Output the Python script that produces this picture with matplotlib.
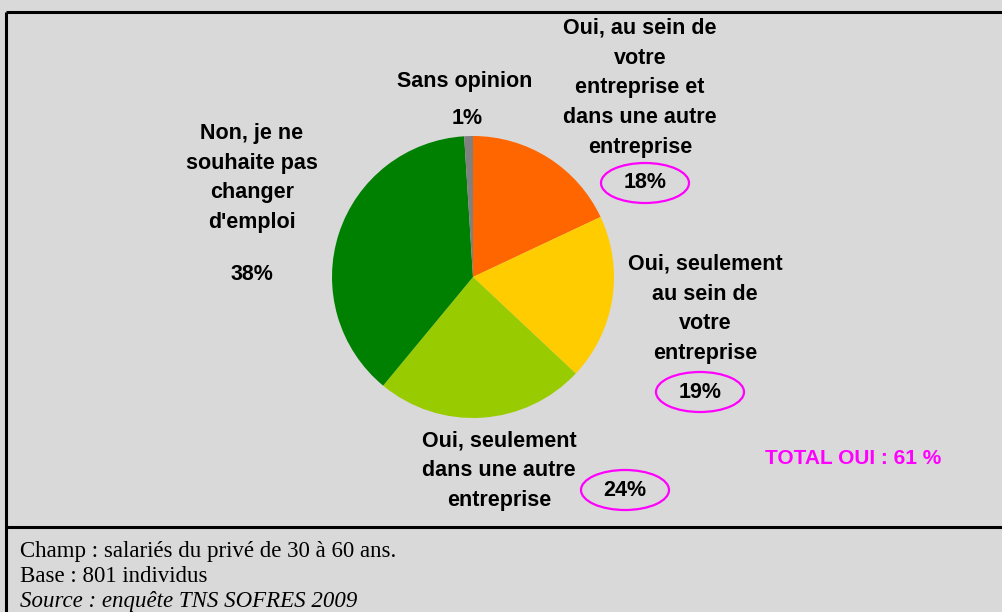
"""Pie chart: souhait de changer d'emploi (enquête TNS SOFRES 2009)."""
import matplotlib
matplotlib.use("Agg")
import matplotlib.pyplot as plt
from matplotlib.patches import Ellipse

W, H = 1002, 612

# data
labels = [
    "Oui, au sein de\nvotre\nentreprise et\ndans une autre\nentreprise",
    "Oui, seulement\nau sein de\nvotre\nentreprise",
    "Oui, seulement\ndans une autre\nentreprise",
    "Non, je ne\nsouhaite pas\nchanger\nd'emploi",
    "Sans opinion",
]
shares = [18, 19, 24, 38, 1]
colors = ["#FF6600", "#FFCC00", "#99CC00", "#008000", "#808080"]
circled = [True, True, True, False, False]
total_oui = "TOTAL OUI : 61 %"
notes = [
    "Champ : salariés du privé de 30 à 60 ans.",
    "Base : 801 individus",
]
source = "Source : enquête TNS SOFRES 2009"

# label placement in pixel coords (x, y from top): name, percent
name_pos = [(640, 88), (705, 309), (499, 471), (252, 178), (465, 82)]
pct_pos = [(645, 183), (700, 392), (625, 490), (252, 275), (467, 118)]

BG = "#D9D9D9"
fig = plt.figure(figsize=(W / 100, H / 100), dpi=100, facecolor=BG)
ax = fig.add_axes([0, 0, 1, 1])
ax.set_facecolor(BG)


def Y(y):
    return H - y


ax.pie(shares, colors=colors, startangle=90, counterclock=False,
       center=(473, Y(277)), radius=141, frame=True,
       wedgeprops=dict(linewidth=0))
ax.set_xlim(0, W)
ax.set_ylim(0, H)
ax.set_aspect("equal")
ax.axis("off")

lab_font = dict(family="Liberation Sans", weight="bold", fontsize=15.5,
                color="black", ha="center", va="center")
for name, (nx, ny), (px, py), circ, s in zip(labels, name_pos, pct_pos,
                                            circled, shares):
    ax.text(nx, Y(ny), name, linespacing=1.55, **lab_font)
    ax.text(px, Y(py), f"{s}%", **lab_font)
    if circ:
        ax.add_patch(Ellipse((px, Y(py)), 88, 40, fill=False,
                             ec="#FF00FF", lw=1.6))

ax.text(853, Y(459), total_oui, family="Liberation Sans", weight="bold",
        fontsize=15, color="#FF00FF", ha="center", va="center")

# frame lines
lc = dict(color="black", lw=2.2, solid_capstyle="butt")
ax.plot([6.5, W], [Y(12), Y(12)], **lc)
ax.plot([6.5, W], [Y(526.5), Y(526.5)], **lc)
ax.plot([6.5, 6.5], [Y(12), 0], **lc)

serif = dict(family="Liberation Serif", fontsize=16.5, color="black",
             ha="left", va="center")
for i, line in enumerate(notes):
    ax.text(20, Y(551 + 26 * i), line, **serif)
ax.text(20, Y(601), source, style="italic", **serif)

fig.savefig("out.png", dpi=100, facecolor=BG)
